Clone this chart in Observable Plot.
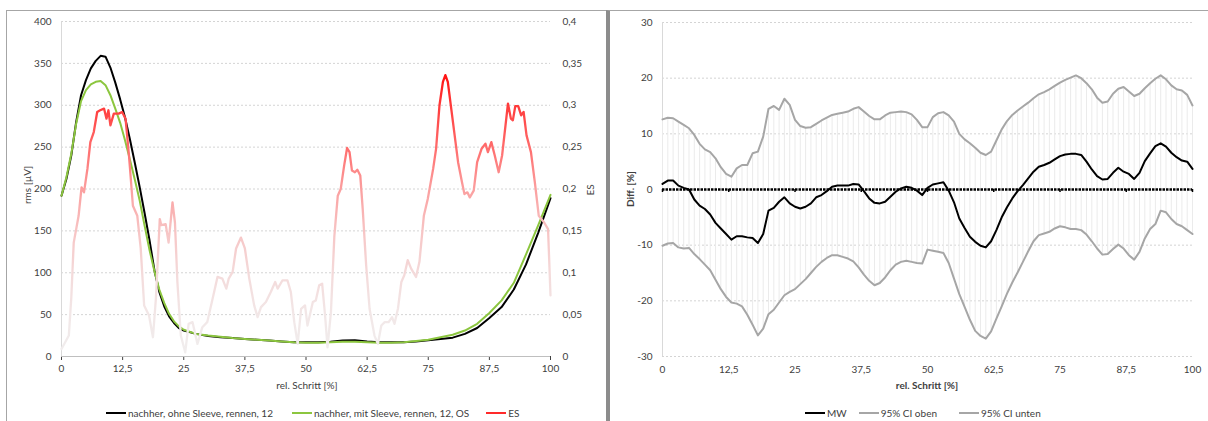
<!DOCTYPE html>
<html>
<head>
<meta charset="utf-8">
<script src="https://cdn.jsdelivr.net/npm/d3@7"></script>
<script src="https://cdn.jsdelivr.net/npm/@observablehq/plot@0.6"></script>
<style>
  body { margin: 0; background: #fff; }
  #page { position: relative; width: 1208px; height: 421px; overflow: hidden;
          font-family: Lato, "Open Sans", sans-serif; color: #404040; }
  .layer { position: absolute; top: 0; }
  .frame { position: absolute; box-sizing: border-box; }
  .title { position: absolute; font-size: 10px; white-space: nowrap; transform: translate(-50%, -50%); }
  .title.rot { transform: translate(-50%, -50%) rotate(-90deg); }
  .title.bold { font-weight: bold; }
  .legend { position: absolute; top: 407px; display: flex; align-items: center; font-size: 10px; white-space: nowrap; color: #404040; }
  .legend .item { display: flex; align-items: center; }
  .legend .sw { width: 20px; height: 2px; margin-right: 2px; }
</style>
</head>
<body>
<div id="page">
  <div class="frame" style="left:6px;top:10px;width:603px;height:430px;border:1px solid #a6a6a6;"></div>
  <div class="frame" style="left:606px;top:10px;width:610px;height:430px;border-top:1px solid #a6a6a6;border-left:4px solid #8c8c8c;"></div>
  <div id="left-base" class="layer" style="left:0;"></div>
  <div id="left-es" class="layer" style="left:0;pointer-events:none;"></div>
  <div id="right" class="layer" style="left:610px;"></div>
  <div class="title rot" style="left:27px;top:185px;">rms [µV]</div>
  <div class="title rot" style="left:590px;top:190px;">ES</div>
  <div class="title" style="left:307px;top:385px;">rel. Schritt [%]</div>
  <div class="title rot bold" style="left:630px;top:189px;">Diff. [%]</div>
  <div class="title bold" style="left:927px;top:385px;">rel. Schritt [%]</div>
  <div id="legend-left" class="legend" style="left:106px;"></div>
  <div id="legend-right" class="legend" style="left:805px;"></div>
</div>
<script>
// ---- axis ticks ----
const xTicks = [0, 12.5, 25, 37.5, 50, 62.5, 75, 87.5, 100];
const rmsTicks = [0, 50, 100, 150, 200, 250, 300, 350, 400];
const esTicks = [0, 0.05, 0.1, 0.15, 0.2, 0.25, 0.3, 0.35, 0.4];
const diffTicks = [-30, -20, -10, 0, 10, 20, 30];

// ---- legend labels ----
const legendLeft = ["nachher, ohne Sleeve, rennen, 12", "nachher, mit Sleeve, rennen, 12, OS", "ES"];
const legendRight = ["MW", "95% CI oben", "95% CI unten"];

// ---- rms curves [µV] over relative step [%] ----
const stepX = [0,1,2,3,4,5,6,7,8,9,10,11,12,13,14,15,16,17,18,19,20,21,22,23,24,25,27.5,30,32.5,35,37.5,40,42.5,45,47.5,50,52.5,55,57.5,60,62.5,65,67.5,70,72.5,75,77.5,80,82.5,85,87.5,90,92.5,95,97.5,100];
const rmsOhne = [192,212,240,280,312,330,344,353,359,358,345,327,307,285,259,231,202,171,139,103,77,60,48,40,34,31,27,24.5,23,22,21,20,19,18,17,17,17,17.5,19,19.5,18,17,17,17,18,19.5,21,22.5,27,34,46,59,80,110,148,189];
const rmsMit  = [192,214,242,278,305,318,325,328,329,324,312,296,279,258,235,211,186,156,127,102,80,64,51,42,36,32,27,25,23.5,22,21,20,19,18,17,16.5,16.5,17,17.5,17.5,17,16.5,16.5,17,18.5,20,23,26,31,39,52,67,88,122,157,193];

// ---- effect size ----
const esX = [0,1.5,2,2.5,3.5,4.1,4.6,5.3,5.9,6.6,7.3,7.9,8.7,9.2,9.6,10.0,10.7,11.7,12.4,13.1,13.8,14.6,15.5,16.2,16.9,17.9,18.7,19.3,20.1,20.4,21.3,21.9,22.7,23.2,23.7,24.4,25.3,26,26.8,27.8,28.8,29.8,30.9,31.9,32.9,33.7,34.2,35,35.7,36.7,37.5,38.4,39.4,40.1,40.8,41.8,42.8,43.7,44.2,45.2,46.2,46.9,47.6,48.3,49,49.8,50.3,51.4,52,52.7,53.3,53.9,54.4,55.1,55.8,56.5,57.1,57.8,58.4,58.9,59.4,60,60.5,61.1,61.6,62.3,63,64,64.7,65.4,66.1,66.9,67.6,68.1,68.8,69.5,70.1,70.8,71.5,72.5,73.2,74.1,74.9,76,76.6,77.3,78,78.5,79,79.7,80.4,81.1,81.9,82.4,83,83.5,84.3,85,85.9,86.7,87.2,87.9,88.6,89.4,90.1,90.8,91.3,91.9,92.3,92.8,93.4,94,94.5,95.1,96,96.8,97.6,98.7,99.5,100];
const esVal = [0.009,0.025,0.07,0.136,0.168,0.202,0.196,0.224,0.256,0.268,0.292,0.294,0.296,0.284,0.294,0.276,0.290,0.290,0.292,0.284,0.240,0.180,0.168,0.129,0.061,0.049,0.023,0.069,0.164,0.157,0.158,0.136,0.184,0.160,0.089,0.025,0.005,0.039,0.041,0.015,0.035,0.041,0.069,0.095,0.093,0.081,0.093,0.101,0.129,0.142,0.129,0.093,0.061,0.047,0.059,0.065,0.077,0.089,0.081,0.091,0.091,0.077,0.041,0.015,0.057,0.061,0.037,0.065,0.067,0.085,0.087,0.049,0.011,0.053,0.144,0.192,0.200,0.228,0.249,0.244,0.222,0.220,0.223,0.216,0.176,0.109,0.057,0.025,0.015,0.037,0.041,0.041,0.047,0.039,0.057,0.089,0.097,0.115,0.105,0.095,0.113,0.168,0.188,0.224,0.248,0.300,0.328,0.336,0.328,0.296,0.264,0.232,0.208,0.194,0.196,0.190,0.198,0.232,0.248,0.254,0.244,0.256,0.240,0.220,0.240,0.276,0.302,0.284,0.282,0.299,0.299,0.288,0.292,0.264,0.244,0.208,0.168,0.160,0.152,0.073];

// ---- difference [%] with 95% confidence interval, one value per step percent ----
const diffX = d3.range(0, 101);
const diffMW = [1.0,1.6,1.6,0.7,0.3,0.0,-1.8,-2.9,-3.5,-4.5,-6.0,-7.0,-8.0,-9.0,-8.4,-8.4,-8.6,-8.7,-9.6,-8.0,-3.8,-3.3,-2.2,-1.4,-2.5,-3.1,-3.4,-3.1,-2.5,-1.4,-1.0,-0.3,0.5,0.7,0.7,0.7,1.0,0.9,-0.3,-1.6,-2.4,-2.5,-2.2,-1.3,-0.4,0.2,0.5,0.3,-0.2,-1.0,0.3,0.9,1.1,1.3,-0.2,-2.3,-5.2,-6.9,-8.5,-9.4,-10.1,-10.4,-9.3,-7.3,-5.0,-3.2,-1.6,-0.3,0.8,2.0,3.2,4.1,4.4,4.8,5.4,6.0,6.3,6.4,6.4,6.2,5.0,3.6,2.4,1.8,1.9,3.0,3.9,3.2,2.8,1.9,3.0,5.1,6.5,7.8,8.3,7.7,6.6,5.8,5.2,5.0,3.7];
const diffOben = [12.6,12.9,12.8,12.2,11.6,11.0,9.8,8.2,7.2,6.7,5.6,4.0,2.8,2.3,3.8,4.4,4.4,6.5,6.8,9.5,14.5,15.0,14.3,16.3,15.2,12.5,11.4,11.1,11.2,11.8,12.4,12.9,13.4,13.6,13.8,14.0,14.5,14.8,14.0,13.2,12.6,12.6,13.3,13.8,13.9,14.0,13.9,13.5,12.5,11.2,11.2,13.0,13.7,13.9,13.3,12.2,10.0,9.0,8.3,7.5,6.6,6.2,6.8,8.8,10.8,12.3,13.4,14.2,14.9,15.6,16.4,17.1,17.5,18.0,18.6,19.2,19.7,20.1,20.5,20.0,19.1,18.0,16.5,15.6,15.8,17.2,18.1,18.4,17.6,16.8,17.2,18.2,19.1,19.9,20.5,19.8,18.7,18.0,17.8,17.0,15.1];
const diffUnten = [-10.1,-9.7,-9.6,-10.4,-10.6,-10.5,-11.6,-12.5,-13.5,-14.5,-16.2,-17.9,-19.3,-20.3,-20.5,-21.0,-22.5,-24.3,-26.2,-25.0,-22.4,-21.6,-20.3,-19.0,-18.4,-17.9,-17.0,-16.1,-15.0,-13.9,-13.0,-12.3,-11.8,-11.8,-12.1,-12.4,-12.9,-14.0,-15.3,-16.4,-17.2,-16.8,-15.8,-14.5,-13.5,-13.0,-12.8,-13.0,-13.2,-13.3,-10.8,-11.0,-11.2,-11.4,-13.2,-16.0,-18.8,-21.1,-23.4,-25.4,-26.3,-26.8,-25.5,-23.2,-21.0,-18.7,-16.7,-14.9,-13.0,-11.1,-9.3,-8.2,-7.9,-7.6,-7.0,-6.6,-6.8,-7.1,-7.1,-7.3,-8.1,-9.3,-10.6,-11.7,-11.6,-10.7,-9.9,-10.6,-11.8,-12.6,-11.2,-8.8,-7.1,-6.2,-3.8,-4.1,-5.3,-6.2,-6.6,-7.3,-8.0];

// ---- shared styling ----
const fmt = d => String(d).replace(".", ",");
const baseStyle = { fontFamily: "Lato, 'Open Sans', sans-serif", fontSize: "10px", color: "#404040", background: "transparent", overflow: "visible" };
const gridStyle = { stroke: "#d4d4d4", strokeDasharray: "2,2" };
const colOhne = "#000000", colMit = "#8cc63f", colES = "#ff2a2a", colCI = "#a6a6a6";

// effect-size line is shaded along its value: pale near 0, saturated red at the peak
const esStops = [[0, "#f0eeee"], [0.05, "#f2e7e7"], [0.1, "#f4dada"], [0.15, "#f7c4c4"], [0.2, "#fb9f9f"], [0.25, "#ff6c6c"], [0.3, "#ff3a3a"], [0.34, "#ff0f0f"]];
function esGradient(index, scales) {
  const defs = d3.create("svg:defs");
  const g = defs.append("linearGradient")
    .attr("id", "es-gradient")
    .attr("gradientUnits", "userSpaceOnUse")
    .attr("x1", 0).attr("x2", 0)
    .attr("y1", scales.y(0)).attr("y2", scales.y(0.34));
  for (const [v, c] of esStops) g.append("stop").attr("offset", v / 0.34).attr("stop-color", c);
  return defs.node();
}

// ---- left chart: rms curves (bottom layer) ----
const rmsRows = stepX.map((x, i) => ({ x, ohne: rmsOhne[i], mit: rmsMit[i] }));
const leftBase = Plot.plot({
  width: 610, height: 396, marginLeft: 61, marginRight: 60, marginTop: 21, marginBottom: 40,
  style: baseStyle,
  x: { domain: [0, 100], ticks: xTicks, tickFormat: fmt, tickSize: 4, tickPadding: 4, label: null },
  y: { domain: [0, 400], ticks: rmsTicks, tickFormat: fmt, tickSize: 0, tickPadding: 10, label: null },
  marks: [
    Plot.ruleY(rmsTicks.filter(d => d > 0), gridStyle),
    Plot.ruleX([0], { stroke: "#d9d9d9" }),
    Plot.ruleY([0], { stroke: "#bfbfbf" }),
    Plot.line(rmsRows, { x: "x", y: "ohne", stroke: colOhne, strokeWidth: 2 }),
    Plot.line(rmsRows, { x: "x", y: "mit", stroke: colMit, strokeWidth: 2 })
  ]
});
document.getElementById("left-base").append(leftBase);

// ---- left chart: effect size on the secondary axis (top layer) ----
const esRows = esX.map((x, i) => ({ x, es: esVal[i] }));
const leftES = Plot.plot({
  width: 610, height: 396, marginLeft: 61, marginRight: 60, marginTop: 21, marginBottom: 40,
  style: baseStyle,
  x: { domain: [0, 100], axis: null },
  y: { domain: [0, 0.4], axis: "right", ticks: esTicks, tickFormat: fmt, tickSize: 0, tickPadding: 12, label: null },
  marks: [
    esGradient,
    Plot.line(esRows, { x: "x", y: "es", stroke: "url(#es-gradient)", strokeWidth: 2.3 })
  ]
});
document.getElementById("left-es").append(leftES);

// ---- right chart: mean difference with confidence band ----
const diffRows = diffX.map((x, i) => ({ x, mw: diffMW[i], hi: diffOben[i], lo: diffUnten[i] }));
const right = Plot.plot({
  width: 598, height: 396, marginLeft: 52, marginRight: 16, marginTop: 22, marginBottom: 40,
  style: baseStyle,
  x: { domain: [0, 100], ticks: xTicks, tickFormat: fmt, tickSize: 0, tickPadding: 9, label: null },
  y: { domain: [-30, 30], ticks: diffTicks, tickFormat: d => String(d), tickSize: 0, tickPadding: 10, label: null },
  marks: [
    Plot.ruleY(diffTicks.filter(d => d !== 0), gridStyle),
    Plot.ruleX([0], { stroke: "#d9d9d9" }),
    Plot.ruleX(diffRows, { x: "x", y1: "lo", y2: "hi", stroke: "#ebebeb", strokeWidth: 1 }),
    Plot.line(diffRows, { x: "x", y: "hi", stroke: colCI, strokeWidth: 2 }),
    Plot.line(diffRows, { x: "x", y: "lo", stroke: colCI, strokeWidth: 2 }),
    Plot.ruleY([0], { stroke: "#000", strokeWidth: 2.5, strokeDasharray: "2.5,1" }),
    Plot.ruleX(xTicks, { y1: 0, y2: 0, insetBottom: -3, stroke: "#000", strokeWidth: 1.5 }),
    Plot.line(diffRows, { x: "x", y: "mw", stroke: "#000", strokeWidth: 2 })
  ]
});
document.getElementById("right").append(right);

// ---- legends ----
function legend(id, labels, colors, gaps) {
  const el = document.getElementById(id);
  labels.forEach((label, i) => {
    const item = document.createElement("div");
    item.className = "item";
    if (i < labels.length - 1) item.style.marginRight = gaps[i] + "px";
    const sw = document.createElement("div");
    sw.className = "sw";
    sw.style.background = colors[i];
    const tx = document.createElement("span");
    tx.textContent = label;
    item.append(sw, tx);
    el.append(item);
  });
}
legend("legend-left", legendLeft, [colOhne, colMit, colES], [19, 17]);
legend("legend-right", legendRight, ["#000", colCI, colCI], [12, 22]);
</script>
</body>
</html>
